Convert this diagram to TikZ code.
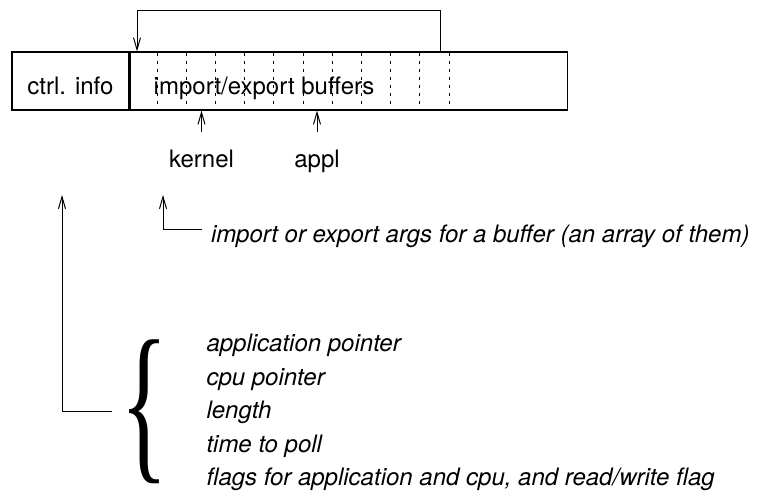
\documentclass[tikz,border=0pt]{standalone}
\usepackage{graphicx}
\usepackage{fontspec}
\setmainfont{TeX Gyre Heros}
\newfontfamily\bracefont{Liberation Serif}
\usetikzlibrary{arrows.meta}

\begin{document}
\begin{tikzpicture}[x=0.5pt,y=-0.5pt,line width=0.5pt,
    cell/.style={draw,line width=0.6pt,minimum height=29pt,inner sep=0pt},
    lbl/.style={inner sep=0pt,font=\fontsize{12}{14}\selectfont},
    note/.style={lbl,font=\fontsize{12}{14}\selectfont\itshape},
    arr/.style={-{Straight Barb[length=6pt,width=3.5pt]}},
    slot/.style={dash pattern=on 1.5pt off 2.5pt}]

    \useasboundingbox (0,0) rectangle (767,496);

    % the record: control part and buffer part
    \node[cell,minimum width=58.5pt] (ctrl) at (70.5,81) {};
    \node[cell,minimum width=218.5pt,anchor=west] (buf) at (ctrl.east) {};
    \node[lbl,anchor=base] (ctrllbl) at (70.5,95) {ctrl. info};
    \node[lbl,anchor=base] (buflbl) at (264,95) {import/export buffers};

    \foreach \i in {0,...,10}
        \draw[slot] ({157+29.2*\i},53) -- ++(0,56);

    % wrap around of the ring
    \coordinate (loopR) at (440,11);
    \coordinate (loopL) at (137,11);
    \draw[arr] (buf.north -| loopR) -- (loopR) -- (loopL) -- (buf.north -| loopL);

    % the two pointers
    \node[lbl,anchor=base] (kernel) at (201.5,168) {kernel};
    \node[lbl,anchor=base] (appl) at (317,168) {appl};
    \draw[arr] ([yshift=9pt]kernel.north) -- (kernel.north |- buf.south);
    \draw[arr] ([yshift=9pt]appl.north) -- (appl.north |- buf.south);

    % one buffer's args
    \node[note,anchor=base west,inner xsep=4.5pt] (impnote) at (201.5,243)
        {import or export args for a buffer (an array of them)};
    \coordinate (imptip) at (163,195);
    \draw[arr] ([yshift=3.9pt]impnote.west) -| (imptip);

    % the control info
    \node[inner xsep=0pt,inner ysep=0pt] (brace) at (145,412)
        {\resizebox*{24pt}{72pt}{\bracefont\{}};
    \foreach \t [count=\i] in {application pointer, cpu pointer, length,
        time to poll, {flags for application and cpu, and read/write flag}}
        \node[note,anchor=base west] (item\i) at (206,{352+33.5*(\i-1)}) {\t};
    \coordinate (ctrltip) at (62,195);
    \draw[arr] ([xshift=-4pt]brace.west) -| (ctrltip);

\end{tikzpicture}
\end{document}
